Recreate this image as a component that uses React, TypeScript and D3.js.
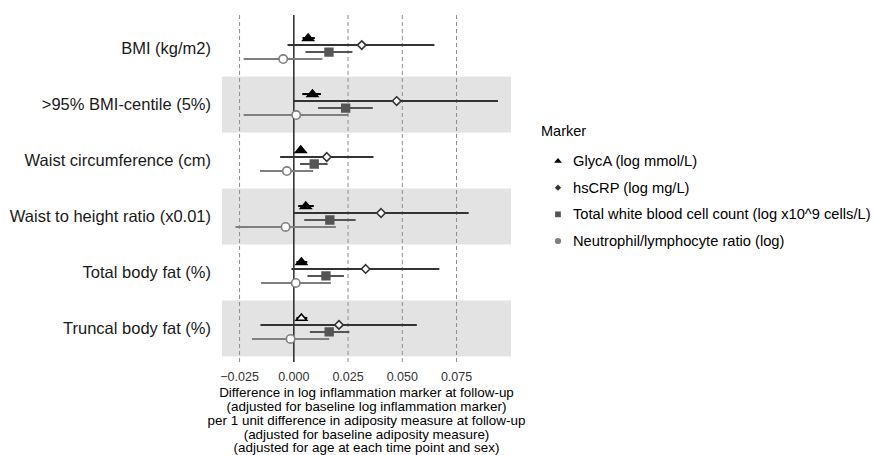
import React, { useEffect, useRef } from "react";
import * as d3 from "d3";

const exposures = [
  "BMI (kg/m2)",
  ">95% BMI-centile (5%)",
  "Waist circumference (cm)",
  "Waist to height ratio (x0.01)",
  "Total body fat (%)",
  "Truncal body fat (%)",
];

const markers = [
  "GlycA (log mmol/L)",
  "hsCRP (log mg/L)",
  "Total white blood cell count (log x10^9 cells/L)",
  "Neutrophil/lymphocyte ratio (log)",
];

// estimates per exposure, one array per marker
const glycaEst = [0.0066, 0.0086, 0.0032, 0.0055, 0.0035, 0.0035];
const glycaLo = [0.004, 0.0039, 0.0018, 0.002, 0.0012, 0.0012];
const glycaHi = [0.0097, 0.0125, 0.0048, 0.0092, 0.0062, 0.0062];
const glycaSig = [true, true, true, true, true, false];

const crpEst = [0.0313, 0.0474, 0.0152, 0.0402, 0.0331, 0.0208];
const crpLo = [-0.0029, 0.0, -0.0063, -0.0003, -0.0011, -0.0154];
const crpHi = [0.0648, 0.0941, 0.0367, 0.0806, 0.0671, 0.0567];
const crpSig = [false, false, false, false, false, false];

const wbcEst = [0.0162, 0.0239, 0.0094, 0.0166, 0.0148, 0.0163];
const wbcLo = [0.0054, 0.0112, 0.0028, 0.0048, 0.0063, 0.0074];
const wbcHi = [0.027, 0.0364, 0.0156, 0.0285, 0.0231, 0.0256];
const wbcSig = [true, true, true, true, true, true];

const nlrEst = [-0.0049, 0.0011, -0.0032, -0.0038, 0.0009, -0.0015];
const nlrLo = [-0.0231, -0.0231, -0.0156, -0.0269, -0.0151, -0.0193];
const nlrHi = [0.0132, 0.0251, 0.0089, 0.0194, 0.0171, 0.0163];
const nlrSig = [false, false, false, false, false, false];

const xTicks = [-0.025, 0, 0.025, 0.05, 0.075];

const axisTitle = [
  "Difference in log inflammation marker at follow-up",
  "(adjusted for baseline log inflammation marker)",
  "per 1 unit difference in adiposity measure at follow-up",
  "(adjusted for baseline adiposity measure)",
  "(adjusted for age at each time point and sex)",
];

// flat triangle like ggplot's, and a square-ish diamond
const triangle = { draw(ctx: any, size: number) { const w = Math.sqrt(size) * 0.75, h = w * 0.75; ctx.moveTo(0, -h); ctx.lineTo(w, h * 0.6); ctx.lineTo(-w, h * 0.6); ctx.closePath(); } };
const diamond = { draw(ctx: any, size: number) { const r = Math.sqrt(size) / 2 * 1.1; ctx.moveTo(0, -r); ctx.lineTo(r, 0); ctx.lineTo(0, r); ctx.lineTo(-r, 0); ctx.closePath(); } };

const series = [
  { est: glycaEst, lo: glycaLo, hi: glycaHi, sig: glycaSig, shape: triangle, color: "#000000", size: 50 },
  { est: crpEst, lo: crpLo, hi: crpHi, sig: crpSig, shape: diamond, color: "#333333", size: 60 },
  { est: wbcEst, lo: wbcLo, hi: wbcHi, sig: wbcSig, shape: d3.symbolSquare, color: "#555555", size: 60 },
  { est: nlrEst, lo: nlrLo, hi: nlrHi, sig: nlrSig, shape: d3.symbolCircle, color: "#7f7f7f", size: 55 },
];

const font = "Liberation Sans, Arial, sans-serif";

const App = () => {
  const svgRef = useRef<SVGSVGElement>(null);

  useEffect(() => {
    const svg = d3.select(svgRef.current);
    svg.selectAll("*").remove();

    const left = 222, right = 511, top = 15, bottom = 362;

    const x = d3.scaleLinear().domain([-0.0331, 0.1001]).range([left, right]);
    const y = d3.scaleBand().domain(exposures).range([top, bottom]).paddingOuter(0.1).paddingInner(0);
    const off = d3.scalePoint().domain(d3.range(markers.length).map(String)).range([-10.5, 10.5]);

    const g = svg.append("g");

    // shaded bands
    g.selectAll(".band")
      .data(exposures.filter((_, i) => i % 2 === 1))
      .enter().append("rect")
      .attr("x", left)
      .attr("width", right - left)
      .attr("y", d => y(d)!)
      .attr("height", y.bandwidth())
      .attr("fill", "#e3e3e3");

    // dashed grid lines
    g.selectAll(".grid")
      .data(xTicks.filter(t => t !== 0))
      .enter().append("line")
      .attr("x1", d => x(d)).attr("x2", d => x(d))
      .attr("y1", top).attr("y2", bottom)
      .attr("stroke", "#8c8c8c")
      .attr("stroke-dasharray", "4,3")
      .attr("stroke-width", 1);

    // zero line
    g.append("line")
      .attr("x1", x(0)).attr("x2", x(0))
      .attr("y1", top).attr("y2", bottom)
      .attr("stroke", "#333333")
      .attr("stroke-width", 1.6);

    series.forEach((s, si) => {
      const dy = off(String(si))!;
      const sg = g.append("g");
      sg.selectAll("line")
        .data(exposures)
        .enter().append("line")
        .attr("x1", (_, i) => x(s.lo[i]))
        .attr("x2", (_, i) => x(s.hi[i]))
        .attr("y1", d => y(d)! + y.bandwidth() / 2 + dy)
        .attr("y2", d => y(d)! + y.bandwidth() / 2 + dy)
        .attr("stroke", s.color)
        .attr("stroke-width", 2);
      sg.selectAll("path")
        .data(exposures)
        .enter().append("path")
        .attr("d", d3.symbol().type(s.shape as any).size(s.size)())
        .attr("transform", (d, i) => `translate(${x(s.est[i])},${y(d)! + y.bandwidth() / 2 + dy})`)
        .attr("fill", (_, i) => (s.sig[i] ? s.color : "#ffffff"))
        .attr("stroke", s.color)
        .attr("stroke-width", 1.6);
    });

    // y labels
    g.selectAll(".ylab")
      .data(exposures)
      .enter().append("text")
      .attr("x", 211)
      .attr("y", d => y(d)! + y.bandwidth() / 2)
      .attr("dy", "0.35em")
      .attr("text-anchor", "end")
      .attr("font-family", font)
      .attr("font-size", 16.5)
      .attr("fill", "#1a1a1a")
      .text(d => d);

    // x tick labels
    g.selectAll(".xlab")
      .data(xTicks)
      .enter().append("text")
      .attr("x", d => x(d))
      .attr("y", 377)
      .attr("dy", "0.35em")
      .attr("text-anchor", "middle")
      .attr("font-family", font)
      .attr("font-size", 12.5)
      .attr("fill", "#333333")
      .text(d => d3.format(".3f")(d));

    // axis title: a bit wide and short, stretched sideways
    const tg = g.append("g")
      .attr("transform", `translate(${(left + right) / 2},0) scale(1.12,1)`);
    tg.selectAll(".xtitle")
      .data(axisTitle)
      .enter().append("text")
      .attr("x", 0)
      .attr("y", (_, i) => 393 + i * 13.8)
      .attr("dy", "0.35em")
      .attr("text-anchor", "middle")
      .attr("font-family", font)
      .attr("font-size", 12)
      .attr("fill", "#000000")
      .text(d => d);

    // legend
    const lg = svg.append("g");
    lg.append("text")
      .attr("x", 541).attr("y", 131)
      .attr("dy", "0.35em")
      .attr("font-family", font)
      .attr("font-size", 14.5)
      .attr("fill", "#000000")
      .text("Marker");
    const ly = d3.scalePoint().domain(markers).range([161, 241]);
    markers.forEach((m, i) => {
      const s = series[i];
      lg.append("path")
        .attr("d", d3.symbol().type(s.shape as any).size(s.size * 0.55)())
        .attr("transform", `translate(558,${ly(m)!})`)
        .attr("fill", s.color);
      lg.append("text")
        .attr("x", 573).attr("y", ly(m)!)
        .attr("dy", "0.35em")
        .attr("font-family", font)
        .attr("font-size", 14.7)
        .attr("fill", "#000000")
        .text(m);
    });
  }, []);

  return <svg ref={svgRef} width={875} height={455} style={{ position: "absolute", left: 0, top: 0 }}></svg>;
};

export default App;
